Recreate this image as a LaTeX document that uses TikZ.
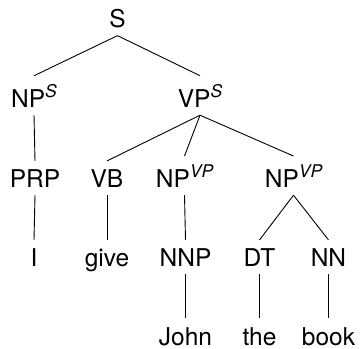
\documentclass[tikz,border=0pt]{standalone}
\usepackage{fontspec}
\setmainfont{TeX Gyre Heros}
\newcommand{\sups}[1]{\raisebox{10pt}{\fontsize{17.5}{18}\selectfont\itshape #1}}
\begin{document}
\begin{tikzpicture}[x=1pt,y=-1pt,
  tag/.style={anchor=base,inner sep=8pt,font=\fontsize{24.5}{28}\selectfont},
  leaf/.style={tag,inner ysep=1pt},
  branch/.style={line width=0.9pt}]
\useasboundingbox (0,0) rectangle (360,349);
% level 1
\node[tag] (s) at (117.5,27) {S};
% level 2
\node[tag] (nps) at (34,107) {NP\sups{S}};
\node[tag] (vps) at (200,107) {VP\sups{S}};
% level 3
\node[tag] (prp) at (35,187) {PRP};
\node[tag] (vb) at (107,187) {VB};
\node[tag] (npa) at (184.5,187) {NP\sups{VP}};
\node[tag] (npb) at (293.5,187) {NP\sups{VP}};
% level 4
\node[tag] (i) at (34,266) {I};
\node[tag] (give) at (107,266) {give};
\node[tag] (nnp) at (185.5,266) {NNP};
\node[tag] (dt) at (259.5,266) {DT};
\node[tag] (nn) at (328.5,266) {NN};
% level 5
\node[leaf] (john) at (185.5,345) {John};
\node[leaf] (the) at (259.5,345) {the};
\node[leaf] (book) at (328.5,345) {book};
% branches
\draw[branch] (s.south) -- (nps.north);
\draw[branch] (s.south) -- (vps.north);
\draw[branch] (nps.south) -- (prp.north);
\draw[branch] (vps.south) -- (vb.north);
\draw[branch] (vps.south) -- (npa.north);
\draw[branch] (vps.south) -- (npb.north);
\draw[branch] (prp.south) -- (i.north);
\draw[branch] (vb.south) -- (give.north);
\draw[branch] (npa.south) -- (nnp.north);
\draw[branch] (npb.south) -- (dt.north);
\draw[branch] (npb.south) -- (nn.north);
\draw[branch] (nnp.south) -- ([yshift=8pt]john.north);
\draw[branch] (dt.south) -- ([yshift=8pt]the.north);
\draw[branch] (nn.south) -- ([yshift=8pt]book.north);
\end{tikzpicture}
\end{document}
